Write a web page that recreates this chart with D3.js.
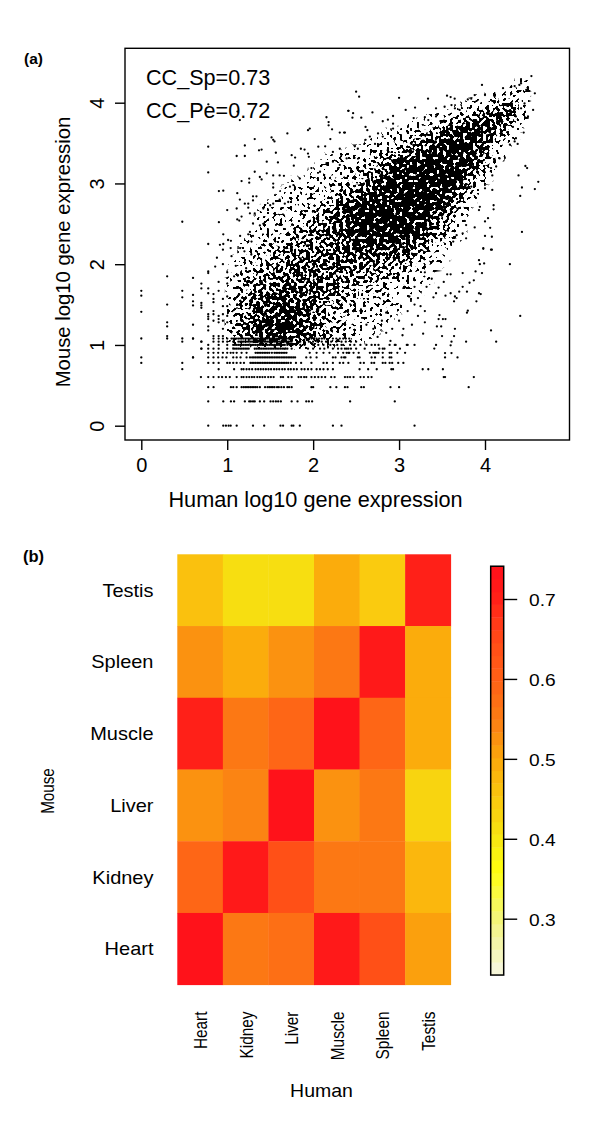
<!DOCTYPE html>
<html><head><meta charset="utf-8">
<script src="https://cdn.jsdelivr.net/npm/d3@7"></script>
<style>html,body{margin:0;padding:0;background:#fff}svg{display:block}text{font-family:"Liberation Sans",Arial,sans-serif;fill:#000}</style>
</head><body><svg id="c" width="600" height="1143"></svg>
<script>
// ---- panel (a): points read one by one from the sparse parts of the picture [human, mouse, ...]
const outerPoints = [
.779,3.455,.779,3.137,.477,2.526,.779,2.25,.903,2.52,.903,2.906,.954,2.91,1.11,3.34,1.205,3.34,1.205,3.47,1.32,3.55,1.37,3.41,1.40,3.42,1.516,3.57,1.535,3.54,1.55,3.52,1.566,3.38,1.70,3.62,1.94,3.66,1.96,3.68,2.155,3.82,2.18,3.76,2.18,3.72,2.22,3.67,2.20,3.55,2.31,3.63,2.36,3.63,2.41,3.90,1.147,3.785,.78,3.98,1.12,3.89,
1.857,3.43,1.90,3.42,1.94,3.37,1.95,3.33,2.06,3.455,2.14,3.46,2.23,3.39,2.31,3.43,2.39,3.31,1.75,3.35,1.79,3.32,1.46,3.27,1.59,3.26,1.775,3.22,1.32,3.145,1.38,3.08,1.40,3.05,1.46,3.125,1.535,3.10,1.61,3.10,1.66,3.095,1.535,2.999,1.535,2.95,1.167,3.03,1.256,3.06,1.256,3.01,1.117,2.88,1.147,2.80,1.205,2.75,1.245,2.75,1.30,2.84,1.30,2.79,1.34,2.84,1.245,2.70,1.11,2.69,1.0,2.67,1.117,2.555,1.14,2.54,1.167,2.59,1.264,2.63,1.32,2.63,1.42,2.69,1.50,2.73,1.535,2.75,1.67,2.75,1.71,2.77,1.61,2.80,1.73,2.96,1.77,2.98,1.845,3.06,1.98,3.19,2.08,3.145,2.155,3.25,2.23,3.27,2.31,3.23,.954,2.37,.915,2.24,.954,2.25,1.01,2.30,1.043,2.29,1.245,2.37,1.264,2.40,1.283,2.28,1.38,2.48,1.42,2.50,1.30,2.505,
4.54,4.33,4.42,4.24,4.40,4.22,4.345,4.206,4.306,4.2,4.58,4.116,4.50,4.18,4.48,4.157,4.21,4.18,3.965,4.22,3.88,4.095,4.0,4.095,3.80,4.04,3.84,4.05,3.647,4.05,3.558,4.087,3.60,4.07,3.337,4.05,3.0,4.06,2.50,4.136,2.535,4.074,3.186,3.94,3.077,3.91,2.41,3.90,2.465,3.87,2.457,3.815,2.56,3.815,2.69,3.88,2.93,3.835,2.87,3.79,2.81,3.77,2.93,3.74,2.93,3.68,3.17,3.81,3.30,3.82,3.34,3.785,3.43,3.93,3.43,3.83,3.53,3.95,3.61,3.97,3.65,3.93,3.705,3.91,2.37,3.63,2.61,3.70,2.63,3.66,2.66,3.58,2.61,3.54,2.755,3.62,2.81,3.58,2.485,3.46,2.52,3.43,2.72,3.49,4.56,3.91,4.46,3.99,4.42,3.93,4.36,3.83,4.50,3.83,4.325,3.70,4.45,3.63,4.36,3.56,4.345,3.52,4.29,3.48,4.38,3.49,4.17,3.31,4.11,3.30,4.07,3.19,4.13,3.21,4.085,3.10,4.47,3.216,4.49,3.19,4.39,3.10,4.62,3.02,4.58,2.93,4.43,2.95,4.41,2.845,4.43,2.40,4.085,2.92,4.0,2.94,4.10,2.73,4.10,2.68,4.035,2.57,4.0,2.53,4.06,2.45,4.0,2.35,4.08,2.34,3.98,2.20,4.07,2.18,3.93,2.67,3.94,2.71,3.88,2.455,3.78,2.485,3.74,2.38,3.78,2.32,3.67,2.36,3.63,2.28,3.84,2.96,
3.98,2.19,4.08,2.18,4.29,2.0,3.93,2.05,3.94,2.0,3.99,2.01,3.89,1.91,3.965,1.89,3.74,1.89,3.56,1.875,3.60,1.875,3.87,1.80,3.82,1.77,3.74,1.72,3.79,1.66,3.93,1.64,3.95,1.63,3.90,1.54,3.70,1.66,3.65,1.60,3.67,1.58,3.64,1.54,3.60,1.64,3.54,1.61,3.46,1.71,3.43,1.64,3.40,1.59,3.52,1.78,3.80,1.425,3.79,1.40,4.41,1.36,4.07,1.18,4.13,1.04,3.78,1.04,3.65,1.20,3.64,1.11,3.61,1.04,3.60,.995,3.50,1.11,3.43,1.0,3.41,.955,3.535,.90,3.61,.90,3.535,.845,3.68,.845,3.47,1.37,3.46,1.32,3.51,1.32,3.54,1.32,3.44,1.23,3.49,1.23,
3.3,1.28,3.22,1.36,3.15,1.25,3.28,1.14,3.1,1.42,3.18,1.5,3.25,1.48,3.3,1.42,3.12,1.6,3.22,1.58,3.32,1.72,3.3,1.9,3.38,1.82,3.18,1.72,3.1,1.8,3.04,1.12,3.05,1.2,2.96,1.0,3.1,1.0,3.0,1.3,2.9,1.05,2.85,1.15,2.92,1.2,2.75,1.1,2.7,1.2,2.62,1.25,2.8,1.3,2.85,1.4,
.0,1.67,.0,1.61,.0,1.41,.0,1.08,.0,.845,.0,.778,.301,1.85,.301,1.50,.301,1.28,.301,1.23,.301,1.11,.301,1.08,.477,1.67,.477,1.59,.477,1.08,.477,1.04,.477,.778,.477,.70,.602,1.83,.602,1.62,.602,1.54,.602,1.49,.602,1.25,.602,1.08,.602,.845,.699,1.76,.699,1.70,.699,1.52,.699,1.49,.699,1.46,.699,1.04,.699,.954,
.779,1.91,.779,1.89,.779,1.70,.779,1.64,.779,1.38,.779,1.35,.779,1.32,.779,1.23,.779,1.18,.84,1.63,.84,1.57,.84,1.53,.84,1.42,.84,1.38,.84,1.30,.84,1.11,.90,1.78,.90,1.67,.90,1.36,.90,1.32,.90,1.28,.90,1.11,.95,1.57,.95,1.48,.95,1.38,.95,1.30,.95,1.20,.95,1.11,1.0,1.76,1.0,1.60,1.0,1.48,1.0,1.36,1.0,1.28,
.88,2.08,.86,1.97,.95,2.0,.95,2.18,1.0,1.9,1.05,2.1,1.04,2.2,1.1,1.98,1.08,1.85,1.15,2.2,1.2,2.16,1.22,1.95,1.28,2.12,1.3,2.35,1.15,2.35
];
// ---- panel (a): low expression counts sit on visible horizontal rows (mouse level, human values)
const rowLevels = [0,0.301,0.477,0.602,0.699,0.778,0.845,0.903,0.954,1,1.041,1.079];
const rowHuman = [
[.779,.954,.985,1.016,1.04,1.11,1.30,1.43,1.62,1.65,1.75,1.77,1.845,2.23,2.33,3.18],
[.779,.954,1.043,1.08,1.205,1.256,1.275,1.30,1.32,1.38,1.43,1.504,1.535,1.566,1.593,1.624,1.75,1.818,1.92,1.95,1.988,2.43,2.95],
[.779,.841,1.043,1.07,1.11,1.167,1.19,1.21,1.23,1.25,1.27,1.29,1.31,1.33,1.35,1.38,1.44,1.47,1.49,1.51,1.53,1.55,1.58,1.6,1.63,1.66,1.7,1.72,1.75,1.98,2.0,2.2,2.27,2.37,2.4,2.56,2.59,2.9,3.0,3.81],
[.694,.779,.84,.90,.94,.985,1.03,1.11,1.167,1.19,1.225,1.256,1.287,1.314,1.35,1.38,1.41,1.44,1.477,1.508,1.54,1.624,1.65,1.71,1.75,1.83,1.86,1.895,1.92,1.98,2.02,2.06,2.1,2.14,2.21,2.25,2.37,2.4,2.43,2.47,2.55,2.59,2.64,2.68,3.52,3.535,3.87],
[.90,1.08,1.167,1.19,1.225,1.256,1.29,1.33,1.36,1.39,1.42,1.45,1.48,1.51,1.545,1.575,1.605,1.64,1.67,1.71,1.74,1.775,1.81,1.865,1.9,1.94,1.98,2.04,2.08,2.12,2.17,2.23,2.54,2.64,2.74,2.91,2.93,3.275,3.34,3.51],
[.779,.84,.90,1.0,1.03,1.07,1.11,1.155,1.195,1.27,1.29,1.31,1.33,1.35,1.37,1.39,1.41,1.43,1.45,1.47,1.49,1.51,1.53,1.55,1.57,1.59,1.61,1.63,1.65,1.67,1.69,1.71,1.74,1.8,1.86,1.98,2.12,2.16,2.23,2.31,2.35,2.41,2.55,2.59,2.68,2.71,2.81,2.84,2.89,2.92,2.99,3.05],
[.602,.779,.84,.895,.945,.99,1.07,1.11,1.155,1.225,1.265,1.29,1.31,1.33,1.35,1.37,1.39,1.41,1.43,1.45,1.47,1.49,1.51,1.53,1.55,1.57,1.59,1.61,1.63,1.65,1.67,1.69,1.71,1.73,1.75,1.77,1.79,1.92,1.97,2.04,2.23,2.26,2.33,2.36,2.375,2.52,2.54,2.68,2.72,2.81,2.89,2.91],
[.779,.84,.895,.95,1.0,1.04,1.07,1.11,1.167,1.225,1.33,1.35,1.37,1.39,1.41,1.43,1.45,1.47,1.49,1.52,1.55,1.57,1.59,1.61,1.63,1.65,1.67,1.69,1.96,2.04,2.12,2.19,2.29,2.39,2.42,2.35,2.41,2.47,2.53,2.66,2.7,2.72,2.74,2.76,2.81,2.89,2.91,2.98,3.07],
[.699,.779,.84,.90,1.0,1.07,1.09,1.11,1.13,1.15,1.17,1.19,1.21,1.23,1.25,1.32,1.34,1.36,1.38,1.40,1.42,1.44,1.46,1.48,1.50,1.52,1.54,1.56,1.58,1.60,1.62,1.64,1.66,1.68,1.7,1.75,1.94,2.0,2.08,2.13,2.23,2.29,2.37,2.41,2.33,2.39,2.44,2.5,2.6,2.77,2.81,2.83,3.01],
[.779,.90,1.0,1.07,1.09,1.11,1.13,1.15,1.17,1.19,1.21,1.23,1.25,1.27,1.29,1.31,1.33,1.35,1.37,1.39,1.41,1.43,1.45,1.47,1.49,1.51,1.53,1.55,1.57,1.59,1.61,1.63,1.65,1.67,1.7,1.73,1.76,1.8,1.85,1.9,2.0,2.06,2.12,2.2,2.28,2.33,2.35,2.43,2.48,2.55,2.62,2.68,2.72,2.76,2.89,2.95,3.09,3.18],
[.699,.84,.90,.95,1.0,1.07,1.13,1.15,1.17,1.19,1.21,1.23,1.25,1.27,1.29,1.31,1.33,1.35,1.37,1.39,1.41,1.43,1.45,1.47,1.49,1.51,1.53,1.55,1.57,1.59,1.61,1.63,1.65,1.67,1.69,1.71,1.73,1.75,1.85,1.9,1.95,2.0,2.05,2.1,2.15,2.21,2.27,2.33,2.38,2.44,2.5],
[.602,.84,.90,.95,1.0,1.05,1.07,1.09,1.11,1.13,1.15,1.17,1.19,1.21,1.23,1.25,1.27,1.29,1.31,1.33,1.35,1.37,1.39,1.41,1.43,1.45,1.47,1.49,1.51,1.53,1.55,1.57,1.59,1.61,1.63,1.65,1.67,1.69,1.71,1.73,1.75,1.92,1.95,1.98,2.01,2.04,2.07,2.1,2.13,2.23,2.27,2.31,2.35,2.38,2.42]
];
// ---- panel (a): the cloud is too dense to read dot by dot, so it is kept as coverage per 0.1 x 0.1 cell (0-9)
const gridHumanStart = 1.0, gridCell = 0.1;
const gridMouseTop = [4.2,4.1,4.0,3.9,3.8,3.7,3.6,3.5,3.4,3.3,3.2,3.1,3.0,2.9,2.8,2.7,2.6,2.5,2.4,2.3,2.2,2.1,2.0,1.9,1.8,1.7,1.6,1.5,1.4,1.3,1.2,1.1,1.0];
const gridCoverage = [
"000000000000000000000000000000000120",
"000000000000000000000000000000012330",
"000000000000000000000000000012233320",
"000000000000000000000000001223456430",
"000000000000000000000001122345676420",
"000000000000000000000122345677765310",
"000000000000000000112334567887754200",
"000000000000000011223456788887642100",
"000000000000001122334567889987531000",
"000000000001122233456788999886421000",
"000000000011222334678899999875310000",
"000000000111223456789999999864200000",
"000000011111223456789999998752100000",
"000000112223345678999999998641000000",
"000001122222345678999999987420000000",
"000012222234567899999999875310000000",
"000122223345678999999998753200000000",
"000122233445678999999987542100000000",
"000122334456778999999886542100000000",
"001223344555667889988775432100000000",
"012233445555667788877664321000000000",
"012334455666677777666543210000000000",
"123344555666666665555433210000000000",
"123445566666655555444332100000000000",
"233455666666555544433221000000000000",
"234556666665554443322211000000000000",
"244566777665544433322110000000000000",
"345677777665443333221100000000000000",
"345677777654433322211000000000000000",
"345677887654432222110000000000000000",
"346788887654332211100000000000000000",
"346788887654322111000000000000000000",
"235777776654322110000000000000000000"
];
const scatterTicksX = [0,1,2,3,4], scatterTicksY = [0,1,2,3,4];
const statLabels = ["CC_Sp=0.73","CC_Pe=0.72"];
// ---- panel (b)
const humanTissues = ["Heart","Kidney","Liver","Muscle","Spleen","Testis"];
const mouseTissues = ["Testis","Spleen","Muscle","Liver","Kidney","Heart"];
const correlation = [
[.46,.41,.41,.49,.45,.70],
[.53,.49,.53,.56,.72,.49],
[.70,.55,.59,.74,.59,.49],
[.52,.54,.74,.53,.56,.43],
[.59,.72,.64,.56,.56,.47],
[.74,.56,.58,.72,.64,.51]];
const legendTicks = [.3,.4,.5,.6,.7];
const legendRange = [.2295,.741], legendBands = 32;
const colourStops = [.2295,.30,.36,.40,.45,.50,.55,.60,.65,.70,.741];
const colourValues = ["#f6f6e4","#f3f57a","#ffff10","#f6e612","#fac80f","#fba80c","#fb7c14","#ff6016","#ff4a18","#ff2018","#ff0f1a"];

const svg = d3.select("#c");
const x = d3.scaleLinear().domain([0,4]).range([141.3,485]);
const y = d3.scaleLinear().domain([0,4]).range([425.7,102.7]);
const box = {l:125,t:48.3,r:569.5,b:440};

// density layer: coverage cells, rendered with a speckle texture so they read like overlapping dots
const defs = svg.append("defs");
const f = defs.append("filter").attr("id","speckle").attr("filterUnits","userSpaceOnUse")
  .attr("x",box.l).attr("y",box.t).attr("width",box.r-box.l).attr("height",box.b-box.t)
  .attr("color-interpolation-filters","sRGB");
f.append("feGaussianBlur").attr("in","SourceAlpha").attr("stdDeviation",3).attr("result","soft");
f.append("feTurbulence").attr("type","fractalNoise").attr("baseFrequency",.3).attr("numOctaves",1).attr("seed",4).attr("result","t");
f.append("feColorMatrix").attr("in","t").attr("type","matrix").attr("values","0 0 0 0 0  0 0 0 0 0  0 0 0 0 0  3.4 0 0 0 -1.2").attr("result","n");
f.append("feComposite").attr("in","soft").attr("in2","n").attr("operator","arithmetic").attr("k1",0).attr("k2",1).attr("k3",1).attr("k4",-1.04).attr("result","sum");
const ct = f.append("feComponentTransfer").attr("in","sum");
ct.append("feFuncA").attr("type","linear").attr("slope",14).attr("intercept",0);

const cells = [];
gridCoverage.forEach((row,r)=>row.split("").forEach((d,c)=>{ if(+d>0) cells.push({hx:gridHumanStart+c*gridCell,my:gridMouseTop[r],d:+d}); }));
svg.append("g").attr("filter","url(#speckle)").selectAll("rect").data(cells).join("rect")
  .attr("x",d=>x(d.hx)).attr("y",d=>y(d.my+gridCell))
  .attr("width",x(gridCell)-x(0)+.3).attr("height",y(0)-y(gridCell)+.3)
  .attr("fill","#000").attr("fill-opacity",d=>d.d/9);

const pts = [];
for(let i=0;i<outerPoints.length;i+=2) pts.push([outerPoints[i],outerPoints[i+1]]);
rowLevels.forEach((lv,i)=>rowHuman[i].forEach(h=>pts.push([h,lv])));
svg.append("g").selectAll("circle").data(pts).join("circle")
  .attr("cx",d=>x(d[0])).attr("cy",d=>y(d[1])).attr("r",1.15).attr("fill","#000");

svg.append("rect").attr("x",box.l).attr("y",box.t).attr("width",box.r-box.l).attr("height",box.b-box.t)
  .attr("fill","none").attr("stroke","#000").attr("stroke-width",1.4);

const ax = svg.append("g").attr("transform",`translate(0,${box.b})`)
  .call(d3.axisBottom(x).tickValues(scatterTicksX).tickFormat(d3.format("d")).tickSize(10).tickPadding(8));
ax.select(".domain").remove();
ax.selectAll("line").attr("stroke-width",1.4);
ax.selectAll("text").attr("font-size",20).attr("font-family",null);
const ay = svg.append("g").attr("transform",`translate(${box.l},0)`)
  .call(d3.axisLeft(y).tickValues(scatterTicksY).tickFormat(d3.format("d")).tickSize(10));
ay.select(".domain").remove();
ay.selectAll("line").attr("stroke-width",1.4);
ay.selectAll("text").attr("font-size",20).attr("text-anchor","middle").attr("dy",null).attr("x",null).attr("y",null)
  .attr("transform",`translate(-21,0) rotate(-90)`);

function label(t,px,py,size,o={}){
  const s = o.sx||o.sy ? ` scale(${o.sx||1},${o.sy||1})` : "";
  return svg.append("text").text(t).attr("font-size",size).attr("font-weight",o.bold?"bold":null)
    .attr("text-anchor",o.anchor||"start").attr("transform",`translate(${px},${py})${o.rot?` rotate(${o.rot})`:""}${s}`);
}
label(statLabels[0],146,85,21.6);
label(statLabels[1],146,118,21.6);
label("Human log10 gene expression",315.5,506.5,21.7,{anchor:"middle"});
label("Mouse log10 gene expression",70,252,20.3,{anchor:"middle",rot:-90});
label("(a)",24,64,15.5,{bold:true});
label("(b)",23,562,16.5,{bold:true});

// heat map
const hx = d3.scaleBand().domain(humanTissues).range([177.3,450.7]);
const hy = d3.scaleBand().domain(mouseTissues).range([554.3,984.7]);
const cont = d3.scaleLinear().domain(colourStops).range(colourValues);
const band = d3.scaleQuantize().domain(legendRange).range(d3.range(legendBands));
const bandVal = i => legendRange[0]+(i+.5)*(legendRange[1]-legendRange[0])/legendBands;
const heat = [];
correlation.forEach((row,r)=>row.forEach((v,c)=>heat.push({h:humanTissues[c],m:mouseTissues[r],v})));
svg.append("g").selectAll("rect").data(heat).join("rect")
  .attr("x",d=>hx(d.h)).attr("y",d=>hy(d.m)).attr("width",hx.bandwidth()+.4).attr("height",hy.bandwidth()+.4)
  .attr("fill",d=>cont(bandVal(band(d.v))));
mouseTissues.forEach(t=>label(t,153.5,hy(t)+hy.bandwidth()/2+6.5,20,{anchor:"end",sy:.9}));
humanTissues.forEach(t=>label(t,hx(t)+hx.bandwidth()/2+7,1011.5,15.4,{anchor:"end",rot:-90,sy:1.16}));
label("Human",321.5,1097,19.5,{anchor:"middle",sy:.9});
label("Mouse",54,791,15.2,{anchor:"middle",rot:-90,sy:1.16});

// colour key
const ly = d3.scaleLinear().domain([.3,.7]).range([918.7,599]);
const bw = (legendRange[1]-legendRange[0])/legendBands;
svg.append("g").selectAll("rect").data(d3.range(legendBands)).join("rect")
  .attr("x",490.7).attr("width",13).attr("y",i=>ly(legendRange[0]+(i+1)*bw)).attr("height",ly(0)-ly(bw)+.4)
  .attr("fill",i=>cont(bandVal(i)));
svg.append("rect").attr("x",490.7).attr("width",13).attr("y",ly(legendRange[1])).attr("height",ly(legendRange[0])-ly(legendRange[1]))
  .attr("fill","none").attr("stroke","#000").attr("stroke-width",1.5);
const la = svg.append("g").attr("transform","translate(503.7,0)").call(d3.axisRight(ly).tickValues(legendTicks).tickFormat(d3.format(".1f")).tickSize(13.5));
la.select(".domain").remove();
la.selectAll("line").attr("stroke-width",1.4);
la.selectAll("text").attr("font-size",19.2).attr("x",null).attr("dy",null).attr("y",null)
  .attr("transform","translate(25.3,6.5) scale(1,.9)");
</script></body></html>
